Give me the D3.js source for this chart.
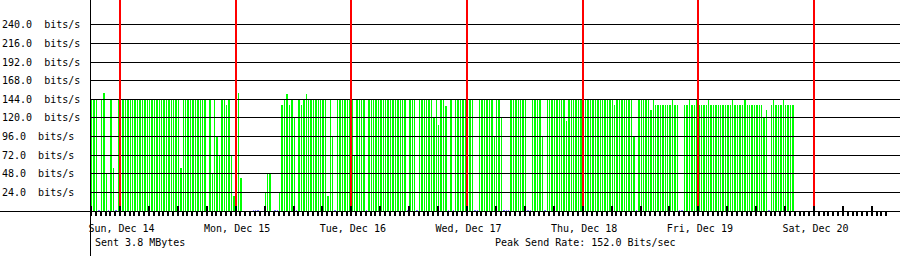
<!DOCTYPE html>
<html><head><meta charset="utf-8">
<script src="https://cdn.jsdelivr.net/npm/d3@7"></script>
<style>
html,body{margin:0;padding:0;background:#fff;}
svg{display:block;}
text{font-family:"DejaVu Sans Mono","Liberation Mono",monospace;font-size:10px;fill:#000;white-space:pre;}
</style></head>
<body>
<svg id="chart" width="900" height="256"></svg>
<script>
// ---- data (30-minute samples starting Sat Dec 13 18:00) ----
const sendRate = [
 144,144,144,0,144,152,48,0,144,55,0,144, 144,144,144,144,144,144,144,144,144,144,144,144,
 144,144,144,144,144,144,144,144,144,144,144,144, 144,55,144,144,144,144,144,144,144,144,144,144,
 0,144,48,144,96,72,144,144,136,144,72,19, 144,152,42,0,0,0,0,0,0,0,0,0,
 24,48,48,0,0,0,24,136,144,150,136,144, 120,0,144,136,144,150,144,144,144,144,144,144,
 144,144,19,144,96,0,144,144,144,144,144,144, 144,72,144,144,144,144,0,144,144,144,144,144,
 144,144,144,144,144,144,144,144,144,144,144,0, 144,144,144,0,144,144,144,144,144,144,121,144,
 110,144,144,135,0,144,0,144,144,144,144,144, 144,144,144,0,0,144,144,144,144,144,144,96,
 144,144,120,0,0,0,144,144,144,144,144,144, 144,0,0,144,144,144,144,96,0,144,144,144,
 144,144,144,144,144,115,144,144,144,144,144,144, 144,144,144,144,144,144,144,144,144,144,144,144,
 144,136,144,144,144,144,144,144,144,96,0,144, 144,144,144,144,130,143,136,136,136,136,136,136,
 136,144,136,136,0,0,136,136,144,136,136,144, 136,136,136,136,144,136,136,136,136,136,136,136,
 136,136,144,136,136,136,136,144,136,136,136,136, 136,136,136,120,130,0,136,144,136,136,136,144,136,136,136,136
];
const recvRate = [
 1.3,1.3,1.3,1.3,1.3,1.3,1.3,1.3,1.3,1.3,1.3,1.3, 1.3,1.3,1.3,1.3,1.3,1.3,1.3,1.3,1.3,1.3,1.3,1.3,
 1.3,1.3,1.3,1.3,1.3,1.3,1.3,1.3,1.3,1.3,1.3,1.3, 1.3,1.3,1.3,1.3,1.3,1.3,1.3,1.3,1.3,1.3,1.3,1.3,
 1.3,1.3,1.3,1.3,1.3,1.3,1.3,1.3,1.3,1.3,1.3,1.3, 1.3,1.3,0,0,0,0,0,1.3,1.3,1.3,0,0,
 0,0,0,0,1.3,1.3,1.3,1.3,1.3,1.3,1.3,1.3, 1.3,1.3,1.3,1.3,1.3,1.3,1.3,1.3,1.3,1.3,1.3,1.3,
 1.3,1.3,1.3,1.3,1.3,1.3,1.3,1.3,1.3,1.3,1.3,1.3, 1.3,1.3,1.3,1.3,1.3,1.3,1.3,1.3,1.3,1.3,1.3,1.3,
 1.3,1.3,1.3,1.3,1.3,1.3,1.3,1.3,1.3,1.3,1.3,1.3, 1.3,1.3,1.3,1.3,1.3,1.3,1.3,1.3,1.3,1.3,1.3,1.3,
 1.3,1.3,1.3,1.3,1.3,1.3,1.3,1.3,1.3,1.3,1.3,1.3, 1.3,1.3,1.3,1.3,1.3,1.3,1.3,1.3,1.3,1.3,1.3,1.3,
 1.3,1.3,1.3,1.3,1.3,1.3,1.3,1.3,1.3,1.3,1.3,1.3, 1.3,1.3,1.3,1.3,1.3,1.3,1.3,1.3,1.3,1.3,1.3,1.3,
 1.3,1.3,1.3,1.3,1.3,1.3,1.3,1.3,1.3,1.3,1.3,1.3, 1.3,1.3,1.3,1.3,1.3,1.3,1.3,1.3,1.3,1.3,1.3,1.3,
 1.3,1.3,1.3,1.3,1.3,1.3,1.3,1.3,1.3,1.3,1.3,1.3, 1.3,1.3,1.3,1.3,1.3,1.3,1.3,1.3,1.3,1.3,1.3,1.3,
 1.3,1.3,1.3,1.3,1.3,1.3,1.3,1.3,1.3,1.3,1.3,1.3, 1.3,1.3,1.3,1.3,1.3,1.3,1.3,1.3,1.3,1.3,1.3,1.3,
 1.3,1.3,1.3,1.3,1.3,1.3,1.3,1.3,1.3,1.3,1.3,1.3, 1.3,1.3,1.3,1.3,1.3,1.3,1.3,1.3,1.3,1.3,1.3,1.3,1.3,1.3,1.3,1.3
];
const yTickValues = [24, 48, 72, 96, 120, 144, 168, 192, 216, 240];
const yUnit = "bits/s";
const dayLabels = ["Sun, Dec 14", "Mon, Dec 15", "Tue, Dec 16", "Wed, Dec 17", "Thu, Dec 18", "Fri, Dec 19", "Sat, Dec 20"];
const footerLeft = "Sent 3.8 MBytes";
const footerRight = "Peak Send Rate: 152.0 Bits/sec";

// ---- scales ----
const HOUR = 3600 * 1000;
const t0 = Date.UTC(2008, 11, 13, 18, 0);          // first sample
const dayStart = Date.UTC(2008, 11, 14);
const dayEnd = Date.UTC(2008, 11, 20);
const x = d3.scaleUtc().domain([new Date(dayStart), new Date(dayEnd)]).range([120, 814]);
const y = d3.scaleLinear().domain([0, 240]).range([210.7, 24.3]);
const row = v => Math.floor(y(v) + 0.49);
const W = 900, H = 256, axisX = 90;

const svg = d3.select("#chart");
svg.append("rect").attr("width", W).attr("height", H).attr("fill", "#fff");

const slotTime = i => new Date(t0 + i * 0.5 * HOUR);
const baseRow = row(0);
const g = svg.append("g").attr("shape-rendering", "crispEdges");

function drawBars(data, color) {
  g.append("g").selectAll("rect").data(data).join("rect")
    .attr("x", (d, i) => Math.round(x(slotTime(i))))
    .attr("width", (d, i) => Math.max(1, Math.round(x(slotTime(i + 1))) - Math.round(x(slotTime(i))) - 1))
    .attr("y", d => row(d))
    .attr("height", d => d > 0 ? Math.max(0, baseRow - row(d)) : 0)
    .attr("fill", color);
}
drawBars(recvRate, "#8080ff");
drawBars(sendRate, "#00ff00");

// grid lines
g.append("g").selectAll("rect").data(yTickValues).join("rect")
  .attr("x", axisX).attr("width", W - axisX)
  .attr("y", d => row(d)).attr("height", 1).attr("fill", "#000");

// day boundaries
const days = d3.utcDay.range(new Date(dayStart), new Date(dayEnd + HOUR));
g.append("g").selectAll("rect").data(days).join("rect")
  .attr("x", d => Math.round(x(d)) - 1).attr("width", 2)
  .attr("y", 0).attr("height", baseRow).attr("fill", "#ff0000");

// axes lines
g.append("rect").attr("x", 0).attr("width", W).attr("y", baseRow).attr("height", 1).attr("fill", "#000");
g.append("rect").attr("x", axisX).attr("width", 1).attr("y", 0).attr("height", H).attr("fill", "#000");

// hourly ticks below baseline
const hours = d3.utcHour.range(new Date(t0), new Date(Date.UTC(2008, 11, 20, 16)));
g.append("g").selectAll("rect").data(hours).join("rect")
  .attr("x", d => Math.round(x(d)) - 1).attr("width", 2)
  .attr("y", baseRow + 1).attr("height", 4).attr("fill", "#000");

// 6-hour marks above baseline
const sixHours = d3.utcHour.every(6).range(new Date(t0), new Date(Date.UTC(2008, 11, 20, 13)));
g.append("g").selectAll("rect").data(sixHours).join("rect")
  .attr("x", d => Math.round(x(d)) - 1).attr("width", 2)
  .attr("y", baseRow - 5).attr("height", 5).attr("fill", "#000");

// y labels
const fmt = d3.format(".1f");
svg.append("g").selectAll("text").data(yTickValues).join("text")
  .attr("x", 2).attr("y", d => row(d) + 4)
  .text(d => fmt(d) + "  " + yUnit);

// day labels
svg.append("g").selectAll("text").data(days).join("text")
  .attr("x", d => x(d) + 1.5).attr("y", 232).attr("text-anchor", "middle")
  .text((d, i) => dayLabels[i]);

svg.append("text").attr("x", 95).attr("y", 246).text(footerLeft);
svg.append("text").attr("x", 495).attr("y", 246).text(footerRight);
</script>
</body></html>
